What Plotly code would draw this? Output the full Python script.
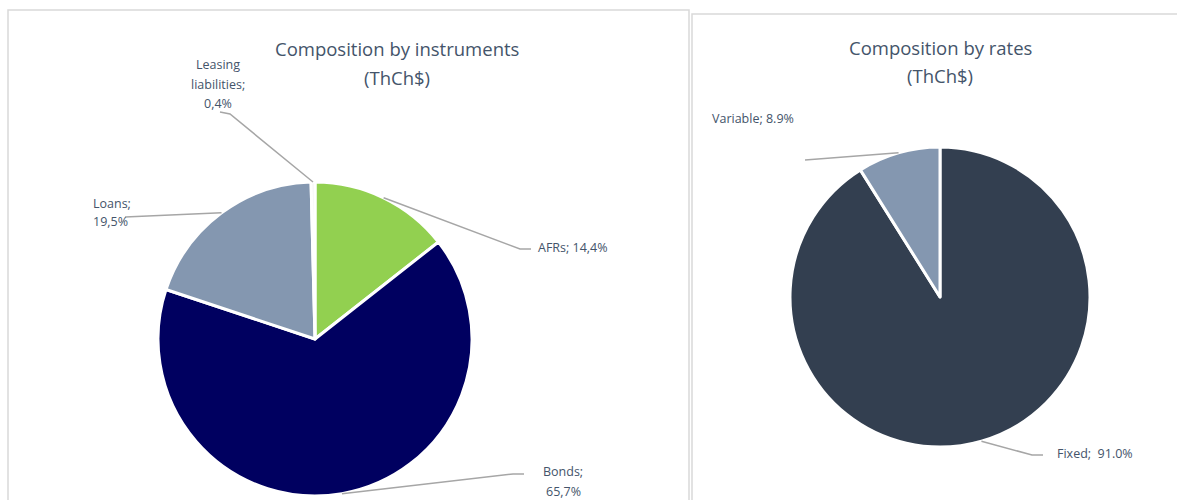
import math
import plotly.graph_objects as go

# ---------------- data ----------------
inst_labels = ["AFRs", "Bonds", "Loans", "Leasing liabilities"]
inst_values = [14.4, 65.7, 19.5, 0.4]
inst_text = ["AFRs; 14,4%", "Bonds;<br>65,7%", "Loans;<br>19,5%", "Leasing<br>liabilities;<br>0,4%"]
inst_colors = ["#92D050", "#000060", "#8497B0", "#F2F2F2"]

rate_labels = ["Fixed", "Variable"]
rate_values = [91.0, 8.9]
rate_text = ["Fixed;\u00a0 91.0%", "Variable; 8.9%"]
rate_colors = ["#333F50", "#8497B0"]

title_left = "Composition by instruments<br>(ThCh$)"
title_right = "Composition by rates<br>(ThCh$)"

# ---------------- layout constants (pixels) ----------------
W, H = 1177, 500
FONT = "'Open Sans', Lato, sans-serif"
TXT = "#44546A"
LINE = "#A6A6A6"

L_CX, L_CY, L_R = 315, 339, 157
R_CX, R_CY, R_R = 940, 297, 150


def px(x):
    return x / W


def py(y):
    return 1 - y / H


def domain(cx, cy, r):
    return dict(x=[px(cx - r), px(cx + r)], y=[py(cy + r), py(cy - r)])


def mid_points(values, cx, cy, r):
    tot = sum(values)
    pts, cum = [], 0.0
    for v in values:
        a = 2 * math.pi * (cum + v / 2) / tot
        pts.append((cx + r * math.sin(a), cy - r * math.cos(a)))
        cum += v
    return pts


fig = go.Figure()
fig.add_trace(go.Pie(
    labels=inst_labels, values=inst_values, sort=False, direction="clockwise",
    rotation=0, textinfo="none", hoverinfo="label+percent",
    marker=dict(colors=inst_colors, line=dict(color="white", width=3)),
    domain=domain(L_CX, L_CY, L_R), showlegend=False,
))
fig.add_trace(go.Pie(
    labels=rate_labels, values=rate_values, sort=False, direction="clockwise",
    rotation=0, textinfo="none", hoverinfo="label+percent",
    marker=dict(colors=rate_colors, line=dict(color="white", width=3)),
    domain=domain(R_CX, R_CY, R_R), showlegend=False,
))

shapes = []
# panel frames
shapes.append(dict(type="rect", xref="paper", yref="paper",
                   x0=px(8), x1=px(689), y0=py(520), y1=py(10),
                   line=dict(color="#D9D9D9", width=1.5), fillcolor="rgba(0,0,0,0)", layer="below"))
shapes.append(dict(type="rect", xref="paper", yref="paper",
                   x0=px(692), x1=px(1200), y0=py(520), y1=py(14),
                   line=dict(color="#D9D9D9", width=1.5), fillcolor="rgba(0,0,0,0)", layer="below"))

# leader lines: start at slice middles, then elbow towards labels
inst_tips = mid_points(inst_values, L_CX, L_CY, L_R)
rate_tips = mid_points(rate_values, R_CX, R_CY, R_R)
inst_legs = [[(520, 249), (531, 249)], [(513, 474), (524, 474)], [(125, 217)], [(230, 114), (220, 112)]]
rate_legs = [[(1032, 455), (1043, 455)], [(805, 160)]]


def path(tip, legs):
    pts = [tip] + legs
    return "M " + " L ".join(f"{px(x):.5f},{py(y):.5f}" for x, y in pts)


for tip, legs in list(zip(inst_tips, inst_legs)) + list(zip(rate_tips, rate_legs)):
    shapes.append(dict(type="path", xref="paper", yref="paper", path=path(tip, legs),
                       line=dict(color=LINE, width=1.5)))

annotations = []


def add_text(text, x, y, xanchor="center", size=12.5, spacing=20):
    lines = text.split("<br>")
    for i, t in enumerate(lines):
        annotations.append(dict(text=t, x=px(x), y=py(y + i * spacing), xref="paper", yref="paper",
                                xanchor=xanchor, yanchor="middle", showarrow=False,
                                font=dict(family=FONT, size=size, color=TXT)))


add_text(title_left, 397, 49, size=18.5, spacing=28)
add_text(title_right, 940, 48, size=18.5, spacing=27)

add_text(inst_text[0], 536, 247, xanchor="left")
add_text(inst_text[1], 563, 471, xanchor="center")
add_text(inst_text[2], 91, 203, xanchor="left", spacing=19)
add_text(inst_text[3], 218, 64, xanchor="center", spacing=20)
add_text(rate_text[0], 1055, 453, xanchor="left")
add_text(rate_text[1], 710, 118, xanchor="left")

fig.update_layout(
    width=W, height=H, margin=dict(l=0, r=0, t=0, b=0),
    paper_bgcolor="white", plot_bgcolor="white",
    shapes=shapes, annotations=annotations,
    font=dict(family=FONT, color=TXT),
)

fig.write_html("out.html", config={"displayModeBar": False},
               post_script="document.body.style.margin='0px';")
